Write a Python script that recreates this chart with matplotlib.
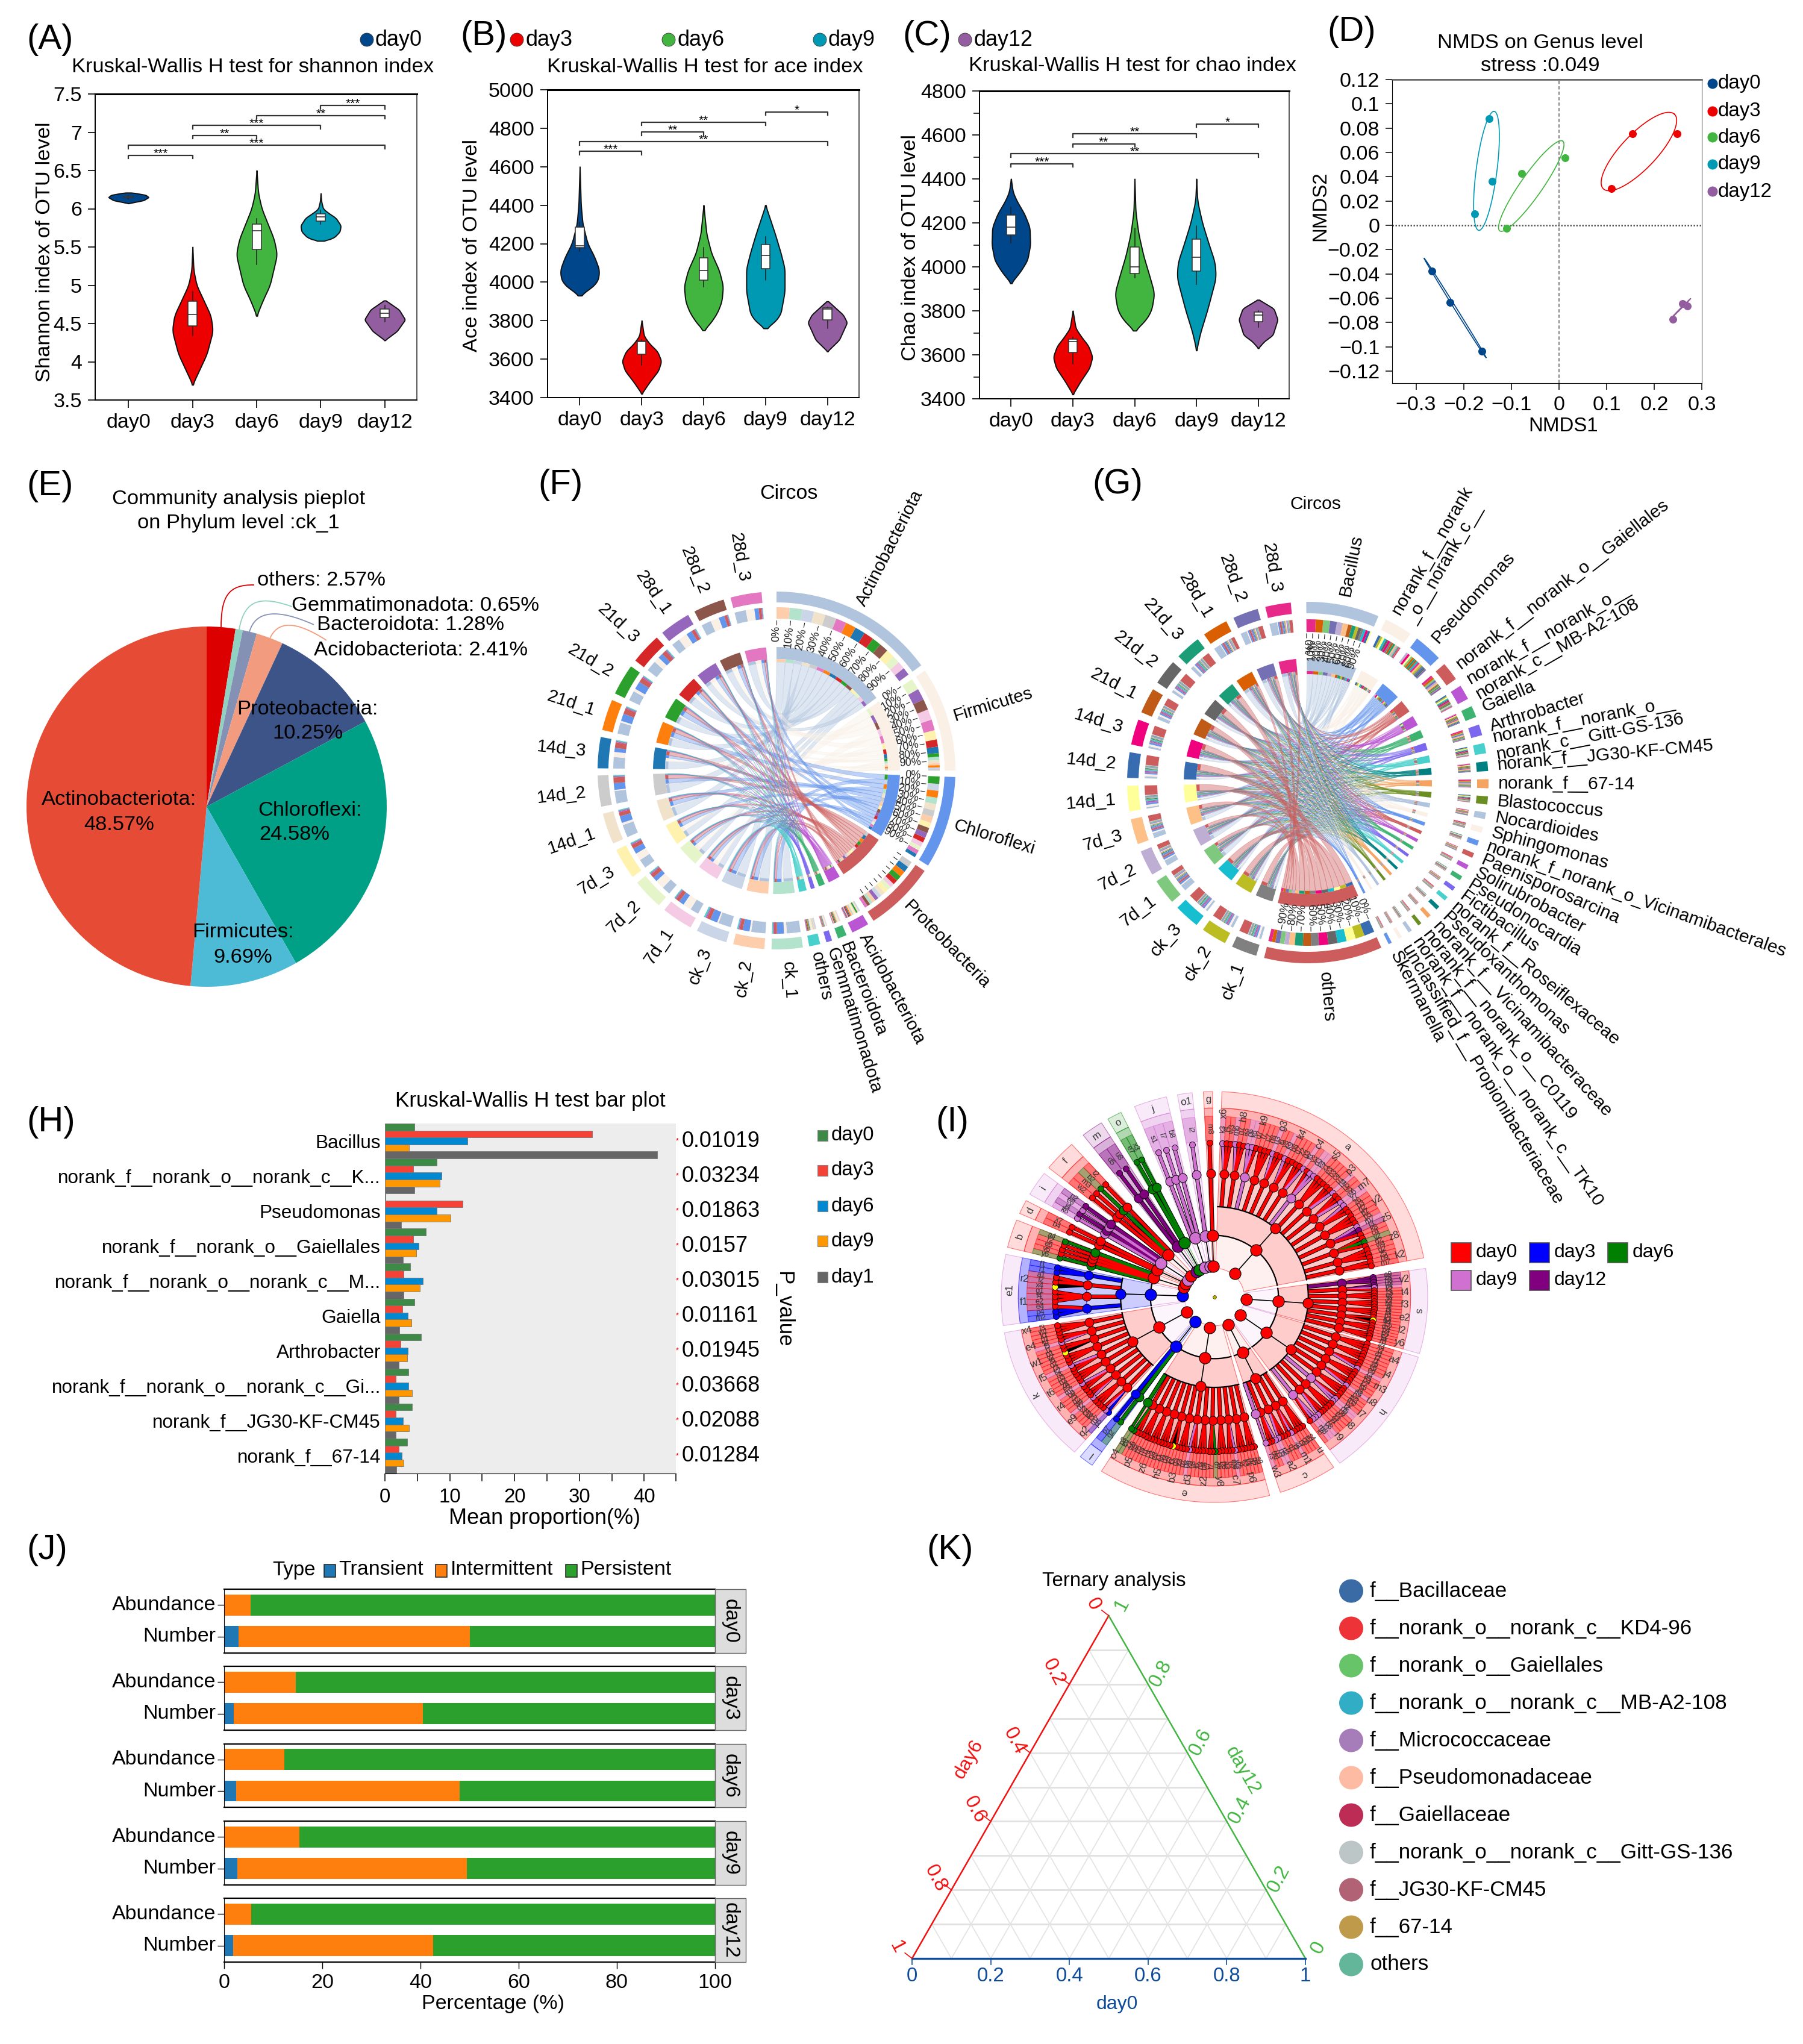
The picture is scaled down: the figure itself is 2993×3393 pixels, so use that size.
# -*- coding: utf-8 -*-
import numpy as np
import matplotlib
matplotlib.use('Agg')
from matplotlib import pyplot as plt
from matplotlib.path import Path
from matplotlib.patches import PathPatch, Rectangle, Ellipse, Polygon

plt.rcParams['font.family'] = ['Liberation Sans', 'DejaVu Sans']
W, H = 2993, 3393
PX = 0.72

days = ['day0', 'day3', 'day6', 'day9', 'day12']
day_cols = ['#00468B', '#ED0000', '#42B540', '#0099B4', '#925E9F']

# violin outlines: (value, relative half width)
shannon_shape = [
    ([6.07, 6.11, 6.15, 6.18, 6.21], [0, .75, 1, .85, .2]),
    ([3.7, 3.9, 4.1, 4.4, 4.6, 4.8, 5.0, 5.2, 5.5], [0, .35, .7, 1, .9, .55, .2, .05, 0]),
    ([4.6, 4.8, 5.0, 5.4, 5.6, 5.8, 6.0, 6.2, 6.5], [0, .3, .65, 1, .85, .55, .25, .08, 0]),
    ([5.58, 5.62, 5.7, 5.78, 5.88, 5.95, 6.0, 6.1, 6.2], [.2, .65, .95, 1, .75, .35, .12, .03, 0]),
    ([4.28, 4.4, 4.55, 4.68, 4.8], [0, .6, 1, .7, .05]),
]
ace_shape = [
    ([3930, 3960, 4000, 4060, 4130, 4200, 4300, 4400, 4600], [0, .45, .9, 1, .75, .4, .15, .06, 0]),
    ([3420, 3480, 3540, 3590, 3640, 3680, 3720, 3800], [0, .4, .85, 1, .8, .4, .12, 0]),
    ([3750, 3780, 3840, 3900, 3980, 4060, 4150, 4250, 4400], [0, .3, .7, .93, 1, .8, .4, .15, 0]),
    ([3760, 3780, 3830, 3950, 4070, 4150, 4250, 4340, 4400], [0, .35, .78, 1, 1, .8, .5, .2, 0]),
    ([3640, 3700, 3790, 3830, 3900], [0, .6, 1, .8, .05]),
]
chao_shape = [
    ([3925, 3980, 4030, 4100, 4180, 4240, 4300, 4340, 4400], [0, .5, .85, 1, .97, .7, .3, .1, 0]),
    ([3420, 3480, 3540, 3590, 3640, 3680, 3720, 3800], [0, .4, .85, 1, .8, .45, .15, 0]),
    ([3710, 3750, 3800, 3880, 3960, 4050, 4150, 4250, 4400], [0, .5, .85, 1, .75, .45, .2, .05, 0]),
    ([3620, 3700, 3800, 3950, 4020, 4100, 4200, 4300, 4400], [0, .2, .55, 1, .95, .65, .3, .05, 0]),
    ([3630, 3660, 3690, 3760, 3810, 3850], [0, .3, .75, 1, .8, .05]),
]
# whisker low, q1, median, q3, whisker high
shannon_box = [[6.13, 6.145, 6.155, 6.165, 6.17], [4.34, 4.47, 4.62, 4.79, 4.92], [5.27, 5.47, 5.71, 5.8, 5.87],
               [5.8, 5.84, 5.89, 5.93, 5.98], [4.52, 4.58, 4.63, 4.69, 4.74]]
ace_box = [[4160, 4180, 4190, 4285, 4310], [3570, 3625, 3690, 3695, 3700], [3975, 4010, 4060, 4125, 4180],
           [4010, 4070, 4140, 4195, 4235], [3760, 3805, 3860, 3865, 3870]]
chao_box = [[4110, 4145, 4180, 4235, 4270], [3560, 3610, 3660, 3670, 3680], [3950, 3970, 4000, 4090, 4175],
            [3920, 3980, 4045, 4125, 4185], [3725, 3750, 3780, 3795, 3800]]
shannon_sig = [(0, 1, 6.7, '***'), (0, 4, 6.83, '***'), (1, 2, 6.96, '**'), (1, 3, 7.09, '***'), (2, 4, 7.22, '**'), (3, 4, 7.35, '***')]
ace_sig = [(0, 1, 4680, '***'), (0, 4, 4730, '**'), (1, 2, 4780, '**'), (1, 3, 4832, '**'), (3, 4, 4885, '*')]
chao_sig = [(0, 1, 4469, '***'), (0, 4, 4515, '**'), (1, 2, 4560, '**'), (1, 3, 4605, '**'), (3, 4, 4650, '*')]

# NMDS points
nmds_x = [[-.266, -.228, -.161], [.154, .248, .11], [.013, -.078, -.11], [-.147, -.14, -.177], [.259, .27, .239]]
nmds_y = [[-.0377, -.0636, -.1036], [.0755, .0755, .03], [.0557, .0427, -.0023], [.088, .0364, .0095], [-.0643, -.0666, -.0773]]
# ellipse centre and two conjugate semi axes
nmds_ell = [(-.218, -.068, .065, -.0409, .0018, .0005), (.168, .0607, .0747, .0307, .0265, -.01),
            (-.058, .0323, .066, .037, .019, -.005), (-.152, .0448, .0157, .049, .022, 0),
            (.255, -.0689, .021, .0084, .005, .0015)]

pie_names = ['others', 'Gemmatimonadota', 'Bacteroidota', 'Acidobacteriota', 'Proteobacteria', 'Chloroflexi', 'Firmicutes', 'Actinobacteriota']
pie_vals = [2.57, .65, 1.28, 2.41, 10.25, 24.58, 9.69, 48.57]
pie_cols = ['#DC0000', '#91D1C2', '#8491B4', '#F39B7F', '#3C5488', '#00A087', '#4DBBD5', '#E64B35']

samples = ['ck_1', 'ck_2', 'ck_3', '7d_1', '7d_2', '7d_3', '14d_1', '14d_2', '14d_3', '21d_1', '21d_2', '21d_3', '28d_1', '28d_2', '28d_3']
f_taxa = ['Actinobacteriota', 'Firmicutes', 'Chloroflexi', 'Proteobacteria', 'Acidobacteriota', 'Bacteroidota', 'Gemmatimonadota', 'others']
f_sizes = [54, 34, 30, 23, 5.7, 2.9, 1.9, 3.6]
f_cols = ['#B0C4DE', '#FAF0E6', '#6495ED', '#CD5C5C', '#BA55D3', '#3CB371', '#7B68EE', '#48D1CC']
f_scol = ['#B3E2CD', '#FDCDAC', '#CBD5E8', '#F4CAE4', '#E6F5C9', '#FFF2AE', '#F1E2CC', '#CCCCCC', '#1F77B4', '#FF7F0E', '#2CA02C', '#D62728', '#9467BD', '#8C564B', '#E377C2']
# per sample share of each phylum
f_comp = [
    [48.6, 9.7, 24.6, 10.3, 2.4, 1.3, .7, 2.6], [50, 6, 24, 12, 3, 1, 1, 3], [45, 5, 26, 13, 4, 2, 1, 4],
    [30, 30, 18, 14, 3, 2, 1, 2], [30, 32, 16, 14, 3, 2, 1, 2], [32, 26, 20, 14, 3, 2, 1, 2],
    [45, 8, 24, 14, 4, 2, 1, 2], [44, 4, 24, 20, 3, 2, 1, 2], [40, 18, 14, 20, 3, 2, 1, 2],
    [40, 6, 26, 20, 3, 2, 1, 2], [35, 10, 28, 18, 4, 2, 1, 2], [38, 20, 18, 16, 3, 2, 1, 2],
    [30, 32, 20, 12, 2, 1, 1, 2], [35, 30, 20, 10, 2, 1, 1, 1], [40, 30, 15, 10, 2, 1, 1, 1],
]
g_taxa = ['Bacillus', 'norank_f__norank\n_o__norank_c__', 'Pseudomonas', 'norank_f__norank_o__Gaiellales',
          'norank_f__norank_o__\nnorank_c__MB-A2-108', 'Gaiella', 'Arthrobacter', 'norank_f__norank_o__\nnorank_c__Gitt-GS-136',
          'norank_f__JG30-KF-CM45', 'norank_f__67-14', 'Blastococcus', 'Nocardioides', 'Sphingomonas',
          'norank_f_norank_o_Vicinamibacterales', 'Paenisporosarcina', 'Solirubrobacter', 'Pseudonocardia', 'Fictibacillus',
          'norank_f__Roseiflexaceae', 'Pseudoxanthomonas', 'norank_f__Vicinamibacteraceae', 'norank_f__norank_o__C0119',
          'norank_f__norank_o__norank_c__TK10', 'unclassified_f__Propionibacteriaceae', 'Skermanella', 'others']
g_sizes = [23.5, 9, 9.3, 6, 4.8, 3.7, 3.5, 3.3, 3.1, 2.9, 2.6, 2.1, 1.9, 1.7, 1.6, 1.5, 1.5, 1.4, 1.4, 1.3, 1.3, 1.2, 1.2, 1.1, 1.1, 38]
g_base = ['#B0C4DE', '#FAF0E6', '#6495ED', '#CD5C5C', '#BA55D3', '#3CB371', '#7B68EE', '#48D1CC', '#008080', '#F4A460', '#6B8E23']
g_scol = ['#808080', '#BCBD22', '#17BECF', '#7FC97F', '#BEAED4', '#FDC086', '#FFFF99', '#386CB0', '#F0027F', '#BF5B17', '#666666', '#1B9E77', '#D95F02', '#7570B3', '#E7298A']
g_profile = [
    [3, 4, 3, 9, 8, 7, 2, 3, 3, 5, 4, 5, 10, 9, 12],
    [7, 8, 8, 4, 4, 5, 8, 9, 8, 7, 8, 7, 3, 4, 3],
    [5, 5, 6, 6, 7, 5, 6, 5, 7, 6, 5, 6, 6, 5, 6],
]

bar_names = ['Bacillus', 'norank_f__norank_o__norank_c__K...', 'Pseudomonas', 'norank_f__norank_o__Gaiellales',
             'norank_f__norank_o__norank_c__M...', 'Gaiella', 'Arthrobacter', 'norank_f__norank_o__norank_c__Gi...',
             'norank_f__JG30-KF-CM45', 'norank_f__67-14']
bar_days = ['day0', 'day3', 'day6', 'day9', 'day1']
bar_cols = ['#3C8A45', '#F44336', '#0288D1', '#FF9800', '#666666']
bar_vals = [[4.6, 32, 12.7, 3.7, 42], [8, 4.4, 8.7, 8.5, 4.6], [0.1, 12, 8, 10.1, 2.5], [6.3, 4.4, 5.2, 4.8, 2.8],
            [3.9, 2.9, 5.9, 5.4, 2.9], [4.6, 2.7, 3.5, 4.1, 2.2], [5.6, 2.4, 3.5, 3.4, 2.1], [3.6, 1.7, 3.6, 4.2, 2.1],
            [4.2, 1.7, 2.8, 3.7, 1.7], [3.4, 2.1, 2.6, 2.9, 1.8]]
bar_p = ['0.01019', '0.03234', '0.01863', '0.0157', '0.03015', '0.01161', '0.01945', '0.03668', '0.02088', '0.01284']

# cladogram: name, start angle, end angle, shading colour, branch colours
clades = [
    ('a', 88, 11, 'r', 'prrprrpprrrrprrprrrrprpprrrrrprrpprrrrrpvrrgrrrrrr'),
    ('s', 8, -16, 'r', 'vvvvprrrrrrrrrrryrrrrrrr'),
    ('h', -17, -54, 'r', 'rrrrrrrrprrrrrprrrrpprrrrrpppr'),
    ('c', -56, -72, 'r', 'rrrrprrrpprrp'),
    ('e', -75, -122, 'r', 'rrrrrrprrrrrgrrrrrrrprrrryrrrrrrrrrrrrgg'),
    ('l', -125, -129, 'b', 'gb'),
    ('k', -131, -170, 'r', 'bprrrrprrrrprrrrrprrryrrprrrrr'),
    ('e1', -172, 168, 'b', 'bbrrrryrrbb'),
    ('b', 166, 158, 'r', 'grrrg'),
    ('d', 156, 152, 'r', 'rr'),
    ('i', 150, 143, 'p', 'pvpv'),
    ('f', 141, 132, 'r', 'rrgr'),
    ('m', 128, 122, 'v', 'vv'),
    ('o', 120, 116, 'g', 'gg'),
    ('j', 112, 103, 'p', 'ppp'),
    ('o1', 100, 96, 'p', 'p'),
    ('g', 93, 90.5, 'r', 'r'),
]
clade_cols = {'r': '#FF0000', 'b': '#0000FF', 'g': '#008000', 'p': '#D070D0', 'v': '#800080', 'y': '#FFFF00'}
clade_labels = ['k3', 'j4', 'w3', 'm6', 'h7', 'a3', 'p6', 'x6', 'd7', 'l7', 'c7', 'h8', 'n3', 'l6', 'y8', 'k9', 'b8', 'q7', 'z2', 'g3',
                't3', 'y3', 'd3', 'k4', 'x1', 'e3', 'b3', 'c4', 'u1', 'h4', 'h5', 's5', 'w6', 'z7', 'z6', 'p3', 'g2', 'p7', 'p5', 'm7',
                't3', 'k8', 'c4', 'y2', 'd2', 'w4', 'q2', 'z5', 'b9', 'm7', 'e9', 'z8', 'h3', 'u3', 'r4', 'k2', 'r3', 'o2', 't6', 'v2',
                'b1', 'l1', 'f5', 't4', 'p1', 'k1', 'w1', 'f3', 'm2', 'p4', 'e4', 'e2', 'f4', 'g1', 'x4', 'l2', 'a1', 'r1', 'f1', 'y6',
                'v6', 'e6', 'r2', 'a4', 'b4', 'x7', 'k6', 'j4', 'e8', 'p2', 'w2', 'm3', 'b2', 't2', 'd5', 'u8', 'e7', 'x3', 's1', 'l7',
                'b8', 'i2', 'm8', 'i8', 's4', 'e1', 'c8', 'r9', 'z1', 'i5', 'q1', 'u', 'n2', 'n5', 'q3', 'm1', 'r3', 's8', 'q4', 'a2', 'v1']

persist_abund = [[0, 5.4, 94.6], [0, 14.6, 85.4], [0, 12.3, 87.7], [0, 15.3, 84.7], [0, 5.5, 94.5]]
persist_number = [[3, 47, 50], [2, 38.5, 59.5], [2.4, 45.6, 52], [2.7, 46.7, 50.6], [1.9, 40.7, 57.4]]
persist_types = ['Transient', 'Intermittent', 'Persistent']
persist_cols = ['#1F77B4', '#FF7F0E', '#2CA02C']

tern_ticks = [0, .2, .4, .6, .8, 1]
tern_names = ['f__Bacillaceae', 'f__norank_o__norank_c__KD4-96', 'f__norank_o__Gaiellales', 'f__norank_o__norank_c__MB-A2-108',
              'f__Micrococcaceae', 'f__Pseudomonadaceae', 'f__Gaiellaceae', 'f__norank_o__norank_c__Gitt-GS-136',
              'f__JG30-KF-CM45', 'f__67-14', 'others']
tern_cols = ['#3A6BA5', '#EE3338', '#68C468', '#31ADC5', '#A67DB8', '#FDBBA4', '#BC2C55', '#BDC6C6', '#B16274', '#C09A4B', '#63B69A']

fig = plt.figure(figsize=(W / 100, H / 100), dpi=100, facecolor='white')


def make_ax(l, t, r, b):
    return fig.add_axes([l / W, 1 - b / H, (r - l) / W, (b - t) / H])


ov = fig.add_axes([0, 0, 1, 1], zorder=10)
ov.set_xlim(0, W)
ov.set_ylim(H, 0)
ov.axis('off')
ov.patch.set_alpha(0)


def txt(x, y, s, px=34, ha='left', va='center', **kw):
    return ov.text(x, y, s, fontsize=px * PX, ha=ha, va=va, **kw)


for s, x, y in [('(A)', 44, 66), ('(B)', 764, 60), ('(C)', 1498, 60), ('(D)', 2203, 53), ('(E)', 44, 807), ('(F)', 893, 805),
                ('(G)', 1813, 804), ('(H)', 44, 1863), ('(I)', 1553, 1863), ('(J)', 44, 2573), ('(K)', 1538, 2573)]:
    txt(x, y, s, 58)

for x, name, col in zip([609, 858, 1110, 1361, 1602], days, day_cols):
    ov.add_patch(Ellipse((x, 66), 22, 22, fc=col, ec='#333333', lw=.6))
    txt(x + 14, 66, name, 36)


def violin_panel(box, shapes, boxes, sig, ylim, yticks, ylab, title, ylab_pos, title_pos, minor=None, xlim=(-.52, 4.5)):
    ax = make_ax(*box)
    for i, (ys, ws) in enumerate(shapes):
        yy = np.linspace(ys[0], ys[-1], 400)
        ww = np.convolve(np.interp(yy, ys, ws), np.ones(31) / 31, 'same')
        ww = ww / ww.max()
        ax.fill_betweenx(yy, i - ww * .31, i + ww * .31, fc=day_cols[i], ec='#111111', lw=1.4, zorder=2)
        lo, q1, med, q3, hi = boxes[i]
        ax.plot([i, i], [lo, hi], color='#222222', lw=1.1, zorder=3)
        ax.add_patch(Rectangle((i - .07, q1), .14, q3 - q1, fc='white', ec='#333333', lw=1.1, zorder=4))
        ax.plot([i - .07, i + .07], [med, med], color='#333333', lw=1.2, zorder=5)
    span = ylim[1] - ylim[0]
    for a, b, y, st in sig:
        ax.plot([a, a, b, b], [y - span * .011, y, y, y - span * .011], color='#333333', lw=1.6, zorder=3)
        ax.text((a + b) / 2, y + span * .005, st, ha='center', va='center', fontsize=15, zorder=6)
    ax.set_xlim(*xlim)
    ax.set_ylim(*ylim)
    ax.set_yticks(yticks)
    ax.set_yticklabels([('%g' % t) for t in yticks])
    if minor is not None:
        ax.set_yticks(minor, minor=True)
        ax.tick_params(axis='y', which='minor', length=7, width=1.1)
    ax.set_xticks(range(5))
    ax.set_xticklabels(days)
    ax.tick_params(labelsize=34 * PX, length=9, width=1.2, pad=7)
    for sp in ax.spines.values():
        sp.set_linewidth(1.4)
    ax.spines['top'].set_linewidth(2.2)
    ax.spines['right'].set_color('#555555')
    ov.text(ylab_pos[0], ylab_pos[1], ylab, rotation=90, ha='center', va='center', fontsize=34.5 * PX)
    txt(title_pos[0], title_pos[1], title, 34.5, ha='center')


violin_panel((158, 156, 692, 664), shannon_shape, shannon_box, shannon_sig, (3.5, 7.5), [3.5, 4, 4.5, 5, 5.5, 6, 6.5, 7, 7.5],
             'Shannon index of OTU level', 'Kruskal-Wallis H test for shannon index', (75, 418), (420, 111))
violin_panel((909, 149, 1426, 660), ace_shape, ace_box, ace_sig, (3400, 5000), list(range(3400, 5200, 200)),
             'Ace index of OTU level', 'Kruskal-Wallis H test for ace index', (783, 407), (1170, 111), xlim=(-.52, 4.51))
violin_panel((1626, 151, 2140, 662), chao_shape, chao_box, chao_sig, (3400, 4800), list(range(3400, 5000, 200)),
             'Chao index of OTU level', 'Kruskal-Wallis H test for chao index', (1511, 411), (1880, 110),
             minor=list(range(3500, 4800, 200)), xlim=(-.51, 4.5))

# NMDS
ax = make_ax(2311, 132, 2825, 636)
ax.axvline(0, color='#777777', lw=1.3, ls=(0, (3, 2)))
ax.axhline(0, color='#555555', lw=1.8, ls=(0, (1, 1)))
for i in range(5):
    c = nmds_ell[i]
    t = np.linspace(0, 2 * np.pi, 200)
    ax.plot(c[0] + c[2] * np.cos(t) + c[4] * np.sin(t), c[1] + c[3] * np.cos(t) + c[5] * np.sin(t), color=day_cols[i], lw=1.2)
    ax.scatter(nmds_x[i], nmds_y[i], s=70, color=day_cols[i], zorder=3)
ax.set_xlim(-.35, .3)
ax.set_ylim(-.13, .12)
ax.set_xticks([-.3, -.2, -.1, 0, .1, .2, .3])
ax.set_xticklabels(['\u22120.3', '\u22120.2', '\u22120.1', '0', '0.1', '0.2', '0.3'])
ax.set_yticks([round(-.12 + .02 * k, 2) for k in range(13)])
ax.set_yticklabels([('%g' % round(-.12 + .02 * k, 2)).replace('-', '\u2212') for k in range(13)])
ax.tick_params(labelsize=34 * PX, length=8, width=1.1, pad=7)
ax.spines['top'].set_linewidth(1.8)
ax.spines['top'].set_color('#555555')
ax.spines['right'].set_color('#555555')
txt(2557, 72, 'NMDS on Genus level', 34.5, ha='center')
txt(2557, 110, 'stress :0.049', 34.5, ha='center')
txt(2595, 707, 'NMDS1', 33, ha='center')
ov.text(2192, 342, 'NMDS2', rotation=90, ha='center', va='center', fontsize=33 * PX)
for y, name, col in zip([139, 185, 228, 273, 318], days, day_cols):
    ov.add_patch(Ellipse((2843, y), 17, 17, fc=col, ec='none'))
    txt(2852, y, name, 33)

# pie
ax = make_ax(44, 1040, 642, 1638)
ax.pie(pie_vals, colors=pie_cols, startangle=90, counterclock=False)
ax.set_xlim(-1, 1)
ax.set_ylim(-1, 1)
txt(396, 828, 'Community analysis pieplot', 34.5, ha='center')
txt(396, 869, 'on Phylum level :ck_1', 34.5, ha='center')
for s, x, y in [('others: 2.57%', 427, 964), ('Gemmatimonadota: 0.65%', 484, 1006), ('Bacteroidota: 1.28%', 526, 1037), ('Acidobacteriota: 2.41%', 521, 1080)]:
    txt(x, y, s, 34.5)
for s, x, y in [('Proteobacteria:', 510, 1177), ('10.25%', 511, 1218), ('Actinobacteriota:', 198, 1328), ('48.57%', 198, 1370),
                ('Firmicutes:', 403, 1548), ('9.69%', 403, 1589), ('Chloroflexi:', 515, 1345)]:
    txt(x, y, s, 34.5, ha='center')
txt(430, 1386, '24.58%', 34.5)
leaders = [([(367, 1042), (367, 990), (379, 970), (422, 971)], '#DC0000'), ([(397, 1045), (406, 992), (436, 990), (485, 1007)], '#91D1C2'),
           ([(414, 1049), (424, 1013), (461, 1010), (521, 1037)], '#8491B4'), ([(448, 1060), (461, 1030), (491, 1030), (542, 1063)], '#F39B7F')]
for pts, col in leaders:
    ov.add_patch(PathPatch(Path(pts, [Path.MOVETO, Path.CURVE4, Path.CURVE4, Path.CURVE4]), fc='none', ec=col, lw=1.3))


def ring_poly(cx, cy, r0, r1, a0, a1, **kw):
    t = np.radians(np.linspace(a0, a1, max(3, int(abs(a1 - a0) * 2) + 2)))
    xs = np.r_[cx + r1 * np.cos(t), cx + r0 * np.cos(t[::-1])]
    ys = np.r_[cy - r1 * np.sin(t), cy - r0 * np.sin(t[::-1])]
    ov.add_patch(Polygon(np.c_[xs, ys], closed=True, ec='none', **kw))


def chord(cx, cy, r, a0, a1, b0, b1, col, alpha):
    def arc(p, q):
        t = np.radians(np.linspace(p, q, 6))
        return list(zip(cx + r * np.cos(t), cy - r * np.sin(t)))

    def ctrl(ang):
        return (cx + .4 * r * np.cos(np.radians(ang)), cy - .4 * r * np.sin(np.radians(ang)))
    A = arc(a0, a1)
    B = arc(b0, b1)
    verts = A + [ctrl(a1), ctrl(b0), B[0]] + B[1:] + [ctrl(b1), ctrl(a0), A[0]]
    codes = [Path.MOVETO] + [Path.LINETO] * 5 + [Path.CURVE4] * 3 + [Path.LINETO] * 5 + [Path.CURVE4] * 3
    ov.add_patch(PathPatch(Path(verts, codes), fc=col, ec=col, lw=.6, alpha=alpha))


def circos(cx, cy, taxa, sizes, tcols, scols, mat, start, tgap, ssize, sgap, rs, tick_taxa, label_tick, fs, tr, sr):
    mat = np.array(mat, float)  # taxa x samples
    ntax, nsam = mat.shape
    tshare = mat / mat.sum(axis=1, keepdims=True) * np.array(sizes)[:, None]
    sshare = mat / mat.sum(axis=0, keepdims=True) * ssize
    a = start
    tpos = []
    for s in sizes:
        tpos.append(a)
        a -= s + tgap
    spos = []
    for j in range(nsam):
        spos.append(a)
        a -= ssize + sgap
    R0, R1, R2, R3, R4, R5, R6 = rs
    sub_t = {}
    sub_s = {}
    for i in range(ntax):
        a = tpos[i]
        for j in np.argsort(-mat[i]):
            sub_t[(i, j)] = (a, a - tshare[i, j])
            a -= tshare[i, j]
    for j in range(nsam):
        a = spos[j]
        for i in range(ntax):
            sub_s[(i, j)] = (a, a - sshare[i, j])
            a -= sshare[i, j]
    for i in range(ntax):
        for j in range(nsam):
            p, q = sub_t[(i, j)]
            u, v = sub_s[(i, j)]
            chord(cx, cy, R0, p, q, u, v, tcols[i], .42)
    for i in range(ntax):
        a0, a1 = tpos[i], tpos[i] - sizes[i]
        ring_poly(cx, cy, R5, R6, a0, a1, fc=tcols[i])
        ring_poly(cx, cy, R1, R2, a0, a1, fc=tcols[i])
        for j in range(nsam):
            p, q = sub_t[(i, j)]
            ring_poly(cx, cy, R3, R4, p, q, fc=scols[j])
            ring_poly(cx, cy, R0, R1, p, q, fc=scols[j])
        mid = (a0 + a1) / 2
        rot = mid if -90 <= mid <= 90 else mid + 180
        ha = 'left' if -90 <= mid <= 90 else 'right'
        ov.text(cx + tr * np.cos(np.radians(mid)), cy - tr * np.sin(np.radians(mid)), taxa[i], rotation=rot, rotation_mode='anchor',
                ha=ha, va='center', fontsize=fs * PX, linespacing=1.05)
        if i in tick_taxa:
            for k in range(10):
                t = a0 - (a0 - a1) * k / 10
                c, sn = np.cos(np.radians(t)), np.sin(np.radians(t))
                ov.plot([cx + (R3 - 3) * c, cx + (R3 - 10) * c], [cy - (R3 - 3) * sn, cy - (R3 - 10) * sn], color='#222222', lw=.8)
                if i in label_tick:
                    rot = t if -90 <= t <= 90 else t + 180
                    ha = 'right' if -90 <= t <= 90 else 'left'
                    ov.text(cx + (R3 - 12) * c, cy - (R3 - 12) * sn, '%d%%' % (k * 10), rotation=rot, rotation_mode='anchor',
                            ha=ha, va='center', fontsize=18 * PX, color='#222222')
    for j in range(nsam):
        a0, a1 = spos[j], spos[j] - ssize
        ring_poly(cx, cy, R5, R6, a0, a1, fc=scols[j])
        ring_poly(cx, cy, R1, R2, a0, a1, fc=scols[j])
        for i in range(ntax):
            p, q = sub_s[(i, j)]
            ring_poly(cx, cy, R3, R4, p, q, fc=tcols[i])
            ring_poly(cx, cy, R0, R1, p, q, fc=tcols[i])
        mid = (a0 + a1) / 2
        while mid < -180:
            mid += 360
        left = not (-90 <= mid <= 90)
        rot = mid + 180 if left else mid
        ov.text(cx + sr * np.cos(np.radians(mid)), cy - sr * np.sin(np.radians(mid)), samples[j], rotation=rot, rotation_mode='anchor',
                ha='right' if left else 'left', va='center', fontsize=fs * PX)


f_mat = np.array(f_comp).T.tolist()
circos(1289, 1279, f_taxa, f_sizes, f_cols, f_scol, f_mat, 90, 2.05, 10.1, 2.3, (180, 185, 205, 252, 271, 279, 297),
       [0, 1, 2, 3], [0, 1, 2], 29.5, 308, 318)
txt(1309, 820, 'Circos', 34, ha='center')

g_cols = [g_base[k % 11] for k in range(25)] + ['#CD5C5C']
g_mat = [[g_sizes[i] * g_profile[i % 3][j] for j in range(15)] for i in range(26)]
circos(2171, 1299, g_taxa, g_sizes, g_cols, g_scol, g_mat, 90.5, 2.58, 8.2, 2.5, (180, 185, 206, 250, 271, 281, 300),
       [0, 25], [0, 25], 30, 316, 320)
txt(2184, 837, 'Circos', 30, ha='center')

# bar plot
ax = make_ax(639, 1865, 1122, 2446)
ax.set_facecolor('#EDEDED')
vals = np.array(bar_vals)
for k in range(5):
    ax.barh(np.arange(10) + (k - 2) * .2, vals[:, k], height=.2, color=bar_cols[k], ec='#777777', lw=.6)
ax.set_ylim(9.5, -.5)
ax.set_xlim(0, 44.9)
ax.set_yticks(range(10))
ax.set_yticklabels(bar_names)
ax.set_xticks([0, 10, 20, 30, 40])
ax.set_xticks([5, 15, 25, 35, 44.9], minor=True)
ax.tick_params(axis='y', length=0, labelsize=31.5 * PX, pad=5)
ax.tick_params(axis='x', labelsize=33 * PX, length=9, width=1.1, pad=8)
ax.tick_params(axis='x', which='minor', length=9, width=1.1)
for name in ['top', 'left', 'right']:
    ax.spines[name].set_visible(False)
for i, p in enumerate(bar_p):
    yy = 1865 + (i + .5) * 58.1
    txt(1132, yy, p, 36)
    txt(1124, yy, '*', 12, ha='center', color='red')
txt(880, 1828, 'Kruskal-Wallis H test bar plot', 35, ha='center')
txt(904, 2520, 'Mean proportion(%)', 36, ha='center')
ov.text(1301, 2173, 'P_value', rotation=-90, ha='center', va='center', fontsize=35 * PX)
for y, name, col in zip([1885, 1943, 2002, 2060, 2120], bar_days, bar_cols):
    ov.add_patch(Rectangle((1357, y - 9), 17, 18, fc=col, ec='#888888', lw=.8))
    txt(1380, y, name, 33)

# cladogram
cl_x, cl_y, cl_rx, cl_ry = 2016, 2153, 354, 341


def cpol(a, r):
    return cl_x + cl_rx * r * np.cos(np.radians(a)), cl_y - cl_ry * r * np.sin(np.radians(a))


def cwedge(a0, a1, r0, r1, fc, alpha, ec=None):
    t = np.linspace(a0, a1, max(3, int(abs(a1 - a0)) + 2))
    x1, y1 = cpol(t, r1)
    x0, y0 = cpol(t[::-1], r0)
    ov.add_patch(Polygon(np.c_[np.r_[x1, x0], np.r_[y1, y0]], closed=True, fc=matplotlib.colors.to_rgba(fc, alpha),
                         ec=matplotlib.colors.to_rgba(ec if ec else fc, .5), lw=.8, zorder=1))


lab_i = 0
for name, a0, a1, key, pat in clades:
    if a1 > a0:
        a1 -= 360
    cc = clade_cols[key]
    outer = clade_cols['p'] if name in ('s', 'h', 'k', 'e1') else cc
    cwedge(a0, a1, .92, 1.0, outer, .14)
    cwedge(a0, a1, .14, .30, outer, .06)
    cwedge(a0, a1, .30, .60, cc, .2)
    cwedge(a0, a1, .60, .92, cc, .3)
    mx, my = cpol((a0 + a1) / 2, .96)
    ov.text(mx, my, name, fontsize=17 * PX, ha='center', va='center', rotation=(a0 + a1) / 2 - 90, zorder=6, color='#333333')
    n = len(pat)
    step = (a1 - a0) / n
    gsize = 3 if n > 6 else 1
    for g in range(0, n, gsize):
        chunk = pat[g:g + gsize]
        tg = a0 + (g + len(chunk) / 2) * step
        main = clade_cols[max('rbgpv', key=chunk.count)] if chunk.strip('y') else clade_cols['y']
        x0, y0 = cpol(tg, .44 if n > 6 else .30)
        x1, y1 = cpol(tg, .60)
        ww = 3.6
        ov.plot([x0, x1], [y0, y1], color='black', lw=ww + 1.4, zorder=2, solid_capstyle='butt')
        ov.plot([x0, x1], [y0, y1], color=main, lw=ww, zorder=3, solid_capstyle='butt')
        ov.scatter([x1], [y1], s=115, fc=main, ec='black', lw=.7, zorder=5)
        for k, ch in enumerate(chunk):
            t = a0 + (g + k + .5) * step
            col = clade_cols[ch]
            cwedge(t - step / 2, t + step / 2, .76, .88, col if ch != 'y' else 'r', .34)
            x2, y2 = cpol(t, .76)
            w = min(abs(step) * 2.0, 3.6)
            ov.plot([x1, x2], [y1, y2], color='black', lw=w + 1.2, zorder=2, solid_capstyle='butt')
            if ch != 'y':
                ov.plot([x1, x2], [y1, y2], color=col, lw=w, zorder=3, solid_capstyle='butt')
            xn, yn = cpol(t, .75)
            ov.scatter([xn], [yn], s=52, fc=col, ec='black', lw=.6, zorder=4)
            xx, yy = cpol(t, .82)
            rot = t if np.cos(np.radians(t)) >= 0 else t + 180
            ov.text(xx, yy, clade_labels[lab_i % len(clade_labels)], fontsize=13 * PX, ha='center', va='center', rotation=rot, zorder=6, color='#333333')
            if lab_i % 4 == 0 and n > 6:
                xx, yy = cpol(t, .895)
                ov.text(xx, yy, clade_labels[(lab_i + 7) % len(clade_labels)], fontsize=17 * PX, ha='center', va='center', rotation=rot, zorder=6, color='#333333')
            lab_i += 1
    # branch base, clade arc and inner stem
    t = np.linspace(a0, a1, 30)
    if n > 6:
        xa, ya = cpol(t, .44)
        ov.plot(xa, ya, color='black', lw=1.6, zorder=3)
        xa, ya = cpol(t, .30)
        ov.plot(xa, ya, color='black', lw=1.6, zorder=3)
    m = (a0 + a1) / 2
    xs, ys = cpol(np.array([m, m]), np.array([.15, .44 if n > 6 else .30]))
    ov.plot(xs, ys, color='black', lw=1.2, zorder=3)
    x2, y2 = cpol(m, .30)
    ov.scatter([x2], [y2], s=190, fc=cc, ec='black', lw=.8, zorder=5)
    if n > 6:
        x3, y3 = cpol(m, .44)
        ov.scatter([x3], [y3], s=150, fc=cc, ec='black', lw=.8, zorder=5)
    x4, y4 = cpol(m, .15)
    ov.scatter([x4], [y4], s=190, fc=cc, ec='black', lw=.8, zorder=5)
ov.scatter([cl_x], [cl_y], s=18, fc='#BBAA00', ec='black', lw=.4, zorder=5)
for x, y, name, col in [(2409, 2063, 'day0', '#FF0000'), (2539, 2063, 'day3', '#0000FF'), (2669, 2063, 'day6', '#008000'),
                        (2409, 2109, 'day9', '#D070D0'), (2539, 2109, 'day12', '#800080')]:
    ov.add_patch(Rectangle((x, y), 33, 33, fc=col, ec='#555555', lw=1.2))
    txt(x + 41, y + 16, name, 32)

# persistence bars
tops = [(2638, 2744), (2766, 2872), (2895, 3000), (3023, 3129), (3151, 3257)]
for i, (t, b) in enumerate(tops):
    ax = make_ax(372, t, 1187, b)
    for row, vals in ((1, persist_abund[i]), (0, persist_number[i])):
        left = 0
        for v, c in zip(vals, persist_cols):
            ax.barh(row, v, left=left, height=.667, color=c)
            left += v
    ax.set_xlim(0, 100)
    ax.set_ylim(-.516, 1.495)
    ax.set_yticks([0, 1])
    ax.set_yticklabels(['Number', 'Abundance'], va='center')
    ax.tick_params(axis='y', labelsize=34 * PX, length=8, width=1, pad=2)
    if i < 4:
        ax.set_xticks([])
    else:
        ax.set_xticks([0, 20, 40, 60, 80, 100])
        ax.tick_params(axis='x', labelsize=34 * PX, length=8, width=1, pad=6)
    ax.spines['top'].set_linewidth(1.6)
    ax.spines['bottom'].set_linewidth(1.6)
    ov.add_patch(Rectangle((1187, t), 51, b - t, fc='#DDDDDD', ec='#666666', lw=1))
    ov.text(1212, (t + b) / 2, days[i], rotation=-90, ha='center', va='center', fontsize=34 * PX)
txt(818, 3327, 'Percentage (%)', 34, ha='center')
txt(452, 2606, 'Type', 33)
for x0, tx, name, c in zip([538, 723, 939], [562, 748, 963], persist_types, persist_cols):
    ov.add_patch(Rectangle((x0, 2597), 19, 21, fc=c, ec='#222222', lw=1.1))
    txt(tx, 2606, name, 34)

# ternary frame
ax = make_ax(1514, 2682, 2167, 3251)
ax.axis('off')
ax.set_xlim(0, 1)
ax.set_ylim(0, 1)
ax.patch.set_alpha(0)
for k in range(1, 10):
    g = k / 10
    ax.plot([g / 2, 1 - g / 2], [g, g], color='#E0E0E0', lw=2, zorder=1)
    ax.plot([g, g / 2 + .5], [0, 1 - g], color='#E4E4E4', lw=1.3, zorder=1)
    ax.plot([g, g / 2], [0, g], color='#E4E4E4', lw=1.3, zorder=1)
ax.plot([0, .5], [0, 1], color='#F01010', lw=1.8, clip_on=False)
ax.plot([.5, 1], [1, 0], color='#42B540', lw=1.8, clip_on=False)
ax.plot([0, 1], [0, 0], color='#0F4C9A', lw=2.4, clip_on=False)
for v in tern_ticks:
    ax.plot([v, v], [0, -.018], color='#0F4C9A', lw=1.2, clip_on=False)
    ax.text(v, -.052, '%g' % v, color='#0F4C9A', fontsize=33 * PX, ha='center', va='center', clip_on=False)
    lx, ly = .5 - v / 2, 1 - v
    ax.plot([lx, lx - .018], [ly, ly + .016], color='#F01010', lw=1.2, clip_on=False)
    ax.text(lx - .04, ly + .034, '%g' % v, color='#F01010', fontsize=33 * PX, rotation=-62, ha='center', va='center', clip_on=False)
    rx, ry = 1 - v / 2, v
    ax.text(rx + .033, ry + .032, '%g' % v, color='#42B540', fontsize=33 * PX, rotation=62, ha='center', va='center', clip_on=False)
txt(1854, 3327, 'day0', 32, ha='center', color='#0F4C9A')
ov.text(1608, 2920, 'day6', rotation=60, ha='center', va='center', fontsize=32 * PX, color='#F01010')
ov.text(2062, 2939, 'day12', rotation=-60, ha='center', va='center', fontsize=32 * PX, color='#42B540')
txt(1849, 2625, 'Ternary analysis', 33, ha='center')
for i, (name, col) in enumerate(zip(tern_names, tern_cols)):
    y = 2641 + 62 * i
    ov.add_patch(Ellipse((2243, y), 40, 39, fc=col, ec='none'))
    txt(2274, y, name, 35)

fig.savefig('out.png', dpi=100)
